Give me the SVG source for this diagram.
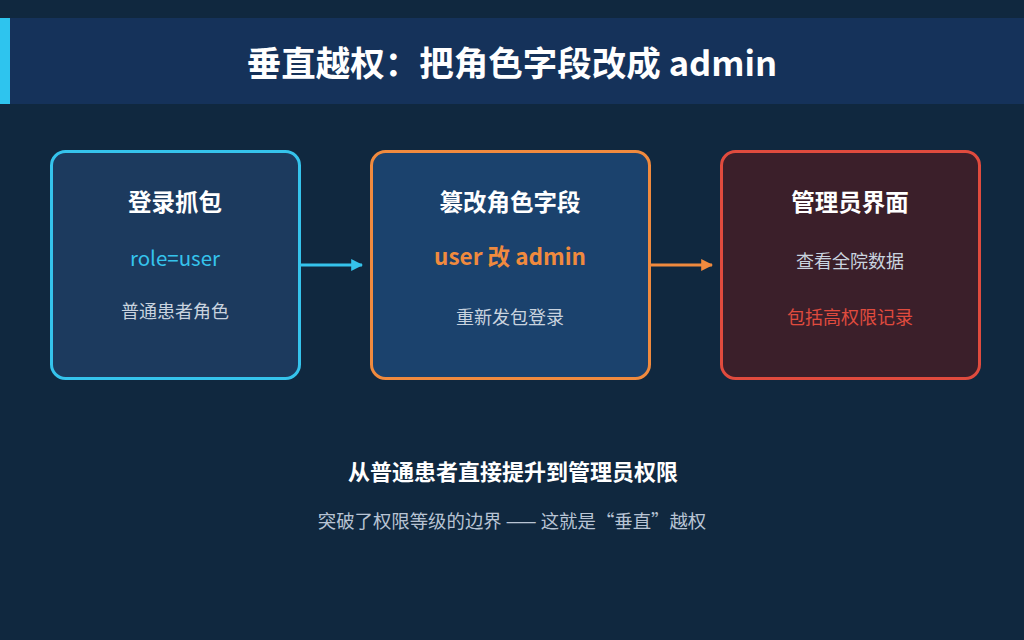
<svg xmlns="http://www.w3.org/2000/svg" width="1024" height="640" viewBox="0 0 1024 640">
<defs>
<style>
.t{font-family:"Noto Sans CJK SC","Noto Sans",sans-serif;text-anchor:middle}
.h{font-size:23.5px;font-weight:700;fill:#ffffff}
.s{font-size:18px;fill:#c9d3df}
.box{stroke-width:3}
</style>
<marker id="ac" viewBox="0 0 10 10" refX="9" refY="5" markerWidth="4" markerHeight="4" orient="auto"><path d="M0,0 L10,5 L0,10 z" fill="#35c3ec"/></marker>
<marker id="ao" viewBox="0 0 10 10" refX="9" refY="5" markerWidth="4" markerHeight="4" orient="auto"><path d="M0,0 L10,5 L0,10 z" fill="#f08a3e"/></marker>
</defs>
<rect width="1024" height="640" fill="#10283f"/>
<g id="title">
<rect x="0" y="18" width="1024" height="86" fill="#15325a"/>
<rect x="0" y="18" width="10" height="86" fill="#2ec4ee"/>
<text class="t" x="512" y="76" font-size="34.5" font-weight="700" fill="#ffffff">垂直越权：把角色字段改成 admin</text>
</g>
<g id="connectors">
<line x1="301" y1="265" x2="362" y2="265" stroke="#35c3ec" stroke-width="3" marker-end="url(#ac)"/>
<line x1="651" y1="265" x2="712" y2="265" stroke="#f08a3e" stroke-width="3" marker-end="url(#ao)"/>
</g>
<g id="node1">
<rect class="box" x="51.5" y="151.5" width="248" height="227" rx="14" fill="#1c3a5e" stroke="#35c3ec"/>
<text class="t h" x="175" y="211">登录抓包</text>
<text class="t" x="175" y="266" font-size="20.5" fill="#35c3ec">role=user</text>
<text class="t s" x="175" y="318">普通患者角色</text>
</g>
<g id="node2">
<rect class="box" x="371.5" y="151.5" width="278" height="227" rx="14" fill="#1b426d" stroke="#f08a3e"/>
<text class="t h" x="510" y="211">篡改角色字段</text>
<text class="t" x="510" y="265" font-size="22.5" font-weight="700" fill="#f08a3e">user 改 admin</text>
<text class="t s" x="510" y="324">重新发包登录</text>
</g>
<g id="node3">
<rect class="box" x="721.5" y="151.5" width="258" height="227" rx="14" fill="#3b1f2a" stroke="#e04b3e"/>
<text class="t h" x="850" y="211">管理员界面</text>
<text class="t s" x="850" y="268">查看全院数据</text>
<text class="t" x="850" y="324" font-size="18" fill="#e04b3e">包括高权限记录</text>
</g>
<g id="footer">
<text class="t" x="513" y="480" font-size="22" font-weight="700" fill="#ffffff">从普通患者直接提升到管理员权限</text>
<text class="t" x="512" y="528" font-size="18.4" fill="#b8c4d4">突破了权限等级的边界 —— 这就是“垂直”越权</text>
</g>
</svg>
